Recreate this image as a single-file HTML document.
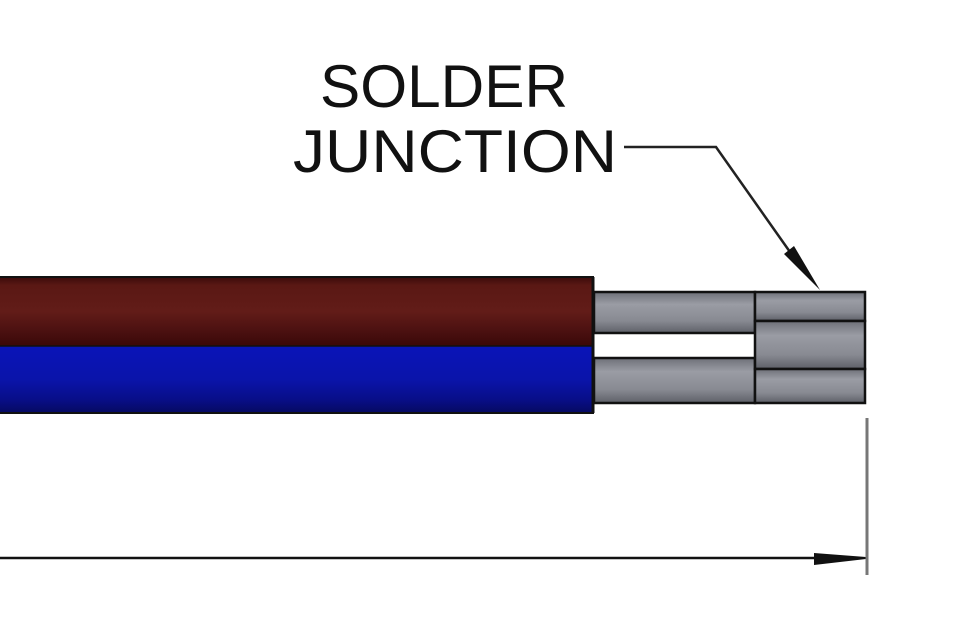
<!DOCTYPE html>
<html><head><meta charset="utf-8"><style>
html,body{margin:0;padding:0;background:#fff;}
svg{display:block;}
</style></head><body>
<svg width="964" height="644" viewBox="0 0 964 644" xmlns="http://www.w3.org/2000/svg">
<defs>
<linearGradient id="red" x1="0" y1="0" x2="0" y2="1">
<stop offset="0" stop-color="#3a0a0a"/><stop offset="0.12" stop-color="#5a1814"/><stop offset="0.5" stop-color="#621c18"/><stop offset="0.8" stop-color="#4a1010"/><stop offset="1" stop-color="#3a0808"/>
</linearGradient>
<linearGradient id="blue" x1="0" y1="0" x2="0" y2="1">
<stop offset="0" stop-color="#0a14b8"/><stop offset="0.5" stop-color="#0a14aa"/><stop offset="0.8" stop-color="#080e88"/><stop offset="1" stop-color="#060a60"/>
</linearGradient>
<linearGradient id="grey" x1="0" y1="0" x2="0" y2="1">
<stop offset="0" stop-color="#6e7078"/><stop offset="0.3" stop-color="#9a9ca4"/><stop offset="0.7" stop-color="#888a92"/><stop offset="1" stop-color="#5e6068"/>
</linearGradient>
</defs>
<rect width="964" height="644" fill="#fff"/>
<text x="320" y="107" font-family="Liberation Sans, sans-serif" font-size="60" fill="#111" textLength="248" lengthAdjust="spacingAndGlyphs">SOLDER</text>
<text x="293" y="172" font-family="Liberation Sans, sans-serif" font-size="60" fill="#111" textLength="324" lengthAdjust="spacingAndGlyphs">JUNCTION</text>
<!-- wires -->
<rect x="0" y="277" width="594" height="69" fill="url(#red)"/>
<rect x="0" y="346" width="594" height="67" fill="url(#blue)"/>
<line x1="0" y1="277" x2="594" y2="277" stroke="#111" stroke-width="2"/>
<line x1="0" y1="346" x2="594" y2="346" stroke="#111" stroke-width="1.5"/>
<line x1="0" y1="413" x2="594" y2="413" stroke="#111" stroke-width="2"/>
<line x1="593" y1="277" x2="593" y2="413" stroke="#111" stroke-width="3"/>
<!-- conductors -->
<rect x="594" y="292" width="161" height="41" fill="url(#grey)" stroke="#111" stroke-width="2.5"/>
<rect x="594" y="358" width="161" height="45" fill="url(#grey)" stroke="#111" stroke-width="2.5"/>
<rect x="755" y="292" width="110" height="29" fill="url(#grey)" stroke="#111" stroke-width="2.5"/>
<rect x="755" y="321" width="110" height="48" fill="url(#grey)" stroke="#111" stroke-width="2.5"/>
<rect x="755" y="369" width="110" height="34" fill="url(#grey)" stroke="#111" stroke-width="2.5"/>
<!-- leader -->
<polyline points="624,147 716,147 790,252" fill="none" stroke="#222" stroke-width="2.5"/>
<polygon points="784,254 794,246 820,290" fill="#111"/>
<!-- dimension -->
<line x1="0" y1="558" x2="820" y2="558" stroke="#111" stroke-width="2.5"/>
<polygon points="814,553 866,557 866,559 814,565" fill="#111"/>
<line x1="867" y1="418" x2="867" y2="575" stroke="#777" stroke-width="3"/>
</svg>
</body></html>
